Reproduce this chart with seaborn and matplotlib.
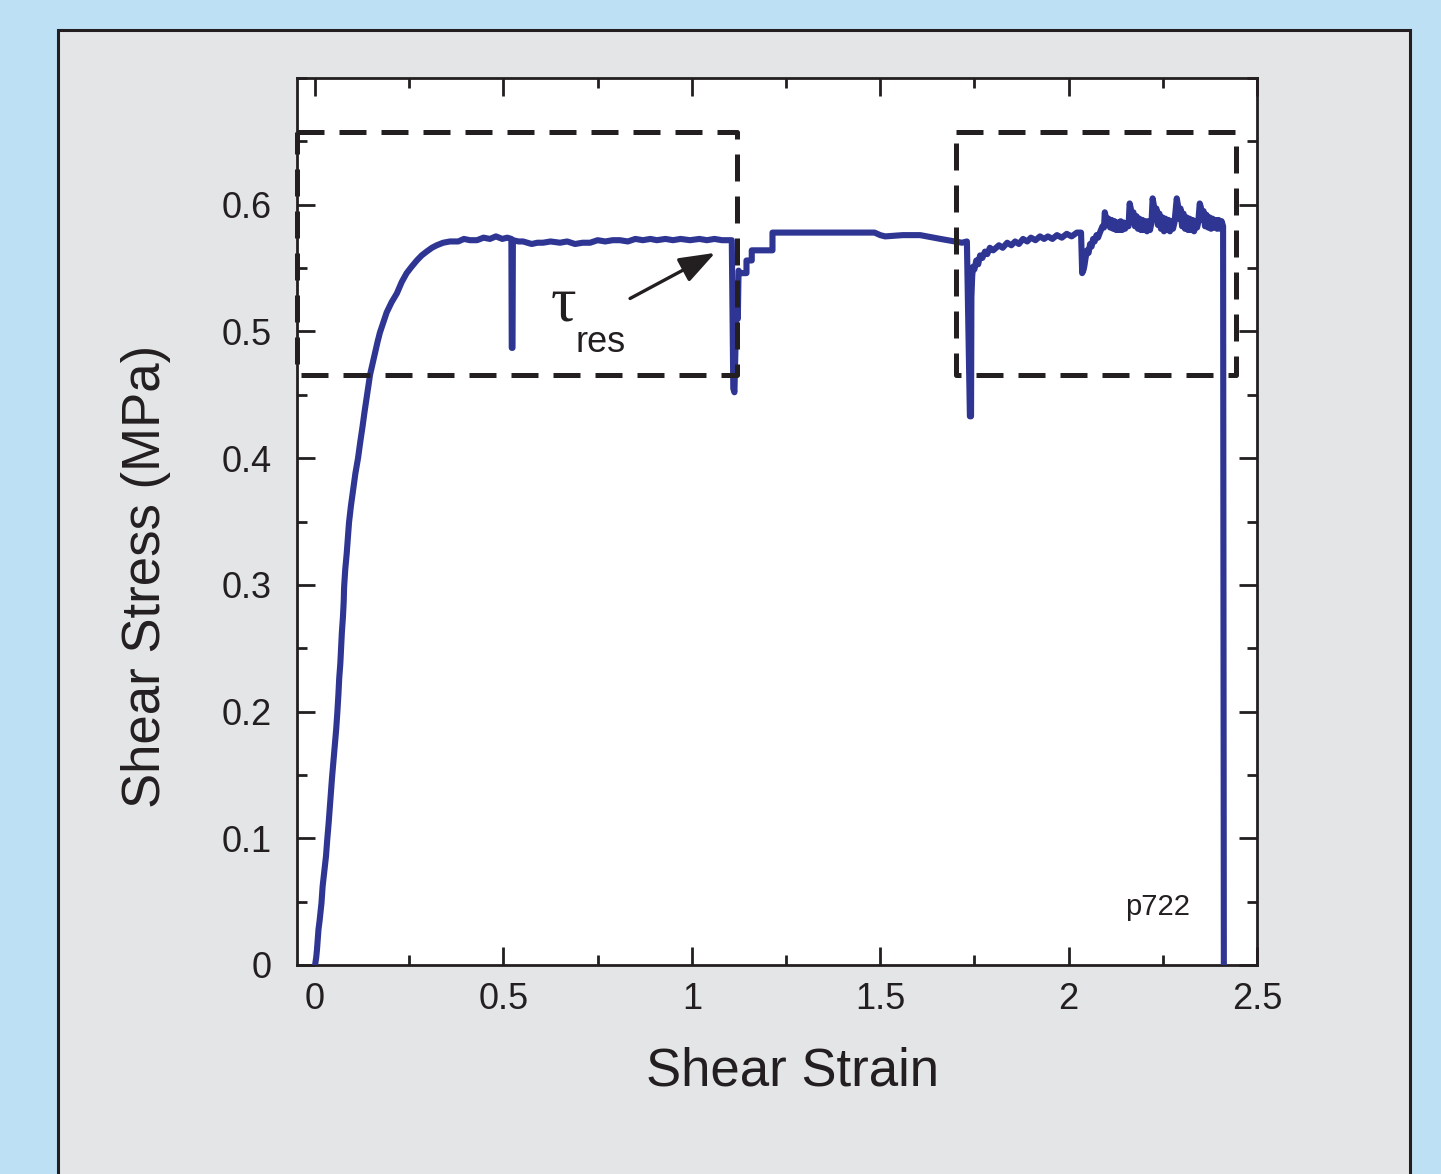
import numpy as np
import pandas as pd
import matplotlib
matplotlib.use("Agg")
import matplotlib.pyplot as plt
from matplotlib.patches import Rectangle
from matplotlib.ticker import MultipleLocator, FormatStrFormatter
import seaborn as sns

# ---- measured shear test p722 ----
# first loading run up to the first unload
strain_run1 = [0.000, 0.003, 0.005, 0.009, 0.012, 0.017, 0.020, 0.025, 0.029, 0.032,
               0.036, 0.039, 0.042, 0.045, 0.049, 0.052, 0.056, 0.059, 0.062, 0.064,
               0.067, 0.069, 0.071, 0.074, 0.076, 0.077, 0.080, 0.084, 0.087, 0.090,
               0.095, 0.101, 0.107, 0.114, 0.120, 0.126, 0.131, 0.137, 0.146, 0.153,
               0.159, 0.166, 0.172, 0.181, 0.190, 0.203, 0.217, 0.230, 0.243, 0.256,
               0.270, 0.283, 0.296, 0.310, 0.323, 0.340, 0.358, 0.380, 0.395, 0.411,
               0.430, 0.447, 0.464, 0.480, 0.497, 0.510, 0.521, 0.522, 0.524, 0.525,
               0.540, 0.552, 0.575, 0.590, 0.605, 0.625, 0.650, 0.669, 0.690, 0.710,
               0.730, 0.750, 0.770, 0.790, 0.809, 0.830, 0.850, 0.870, 0.890, 0.907,
               0.930, 0.950, 0.970, 0.995, 1.020, 1.040, 1.060, 1.080, 1.106]
stress_run1 = [0.000, 0.006, 0.012, 0.028, 0.035, 0.049, 0.062, 0.075, 0.086, 0.098,
               0.112, 0.124, 0.135, 0.148, 0.162, 0.172, 0.186, 0.199, 0.214, 0.226,
               0.238, 0.250, 0.262, 0.275, 0.287, 0.298, 0.312, 0.325, 0.337, 0.349,
               0.362, 0.375, 0.388, 0.400, 0.413, 0.425, 0.436, 0.448, 0.466, 0.475,
               0.483, 0.492, 0.499, 0.507, 0.515, 0.523, 0.530, 0.539, 0.546, 0.551,
               0.556, 0.560, 0.563, 0.566, 0.568, 0.570, 0.571, 0.571, 0.573, 0.572,
               0.572, 0.574, 0.573, 0.575, 0.573, 0.574, 0.573, 0.487, 0.487, 0.572,
               0.571, 0.571, 0.569, 0.570, 0.570, 0.571, 0.570, 0.571, 0.569, 0.570,
               0.570, 0.572, 0.571, 0.572, 0.572, 0.571, 0.573, 0.572, 0.573, 0.572,
               0.573, 0.572, 0.573, 0.572, 0.573, 0.572, 0.573, 0.572, 0.572]

# second run: unload/reload and the long steady plateau
strain_run2 = [1.110, 1.113, 1.116, 1.119, 1.122, 1.124, 1.128, 1.131, 1.145, 1.145,
               1.159, 1.159, 1.214, 1.214, 1.300, 1.400, 1.485, 1.500, 1.513, 1.560,
               1.606, 1.660, 1.717, 1.730]
stress_run2 = [0.455, 0.452, 0.490, 0.527, 0.510, 0.548, 0.546, 0.546, 0.546, 0.556,
               0.556, 0.564, 0.564, 0.578, 0.578, 0.578, 0.578, 0.576, 0.575, 0.576,
               0.576, 0.573, 0.570, 0.571]

# third run: reload, creep-like recovery and a dip
strain_run3 = [1.738, 1.741, 1.742, 1.744, 1.746, 1.750, 1.755, 1.760, 1.765, 1.771,
               1.778, 1.784, 1.791, 1.800, 1.815, 1.825, 1.837, 1.848, 1.858, 1.868,
               1.879, 1.890, 1.900, 1.912, 1.924, 1.935, 1.945, 1.957, 1.969, 1.982,
               1.995, 2.008, 2.022, 2.033, 2.036, 2.040, 2.042, 2.045, 2.049, 2.053,
               2.057, 2.061, 2.065, 2.069, 2.074, 2.078]
stress_run3 = [0.433, 0.433, 0.527, 0.543, 0.551, 0.549, 0.556, 0.553, 0.560, 0.558,
               0.563, 0.561, 0.566, 0.564, 0.568, 0.566, 0.570, 0.568, 0.571, 0.569,
               0.573, 0.571, 0.574, 0.572, 0.575, 0.573, 0.575, 0.573, 0.576, 0.574,
               0.577, 0.575, 0.578, 0.578, 0.546, 0.549, 0.552, 0.558, 0.564, 0.562,
               0.569, 0.567, 0.573, 0.571, 0.576, 0.574]

# stick-slip events before the final unload
strain_slip = [2.083, 2.090, 2.094, 2.096, 2.099, 2.102, 2.106, 2.110, 2.114, 2.118,
               2.122, 2.126, 2.130, 2.134, 2.138, 2.142, 2.146, 2.150, 2.155, 2.159,
               2.162, 2.165, 2.168, 2.172, 2.176, 2.180, 2.184, 2.188, 2.192, 2.196,
               2.200, 2.204, 2.208, 2.212, 2.216, 2.220, 2.223, 2.226, 2.229, 2.233,
               2.237, 2.241, 2.245, 2.249, 2.253, 2.257, 2.261, 2.265, 2.269, 2.273,
               2.277, 2.281, 2.287, 2.290, 2.293, 2.297, 2.301, 2.305, 2.309, 2.313,
               2.317, 2.321, 2.325, 2.329, 2.333, 2.337, 2.341, 2.344, 2.348, 2.351,
               2.354, 2.358, 2.362, 2.366, 2.370, 2.374, 2.378, 2.382, 2.386, 2.390,
               2.394, 2.398, 2.402, 2.406, 2.410, 2.412]
stress_slip = [0.578, 0.583, 0.582, 0.594, 0.590, 0.584, 0.589, 0.582, 0.588, 0.581,
               0.587, 0.580, 0.586, 0.580, 0.587, 0.580, 0.586, 0.581, 0.585, 0.583,
               0.601, 0.597, 0.587, 0.594, 0.583, 0.591, 0.581, 0.589, 0.580, 0.588,
               0.580, 0.587, 0.579, 0.587, 0.580, 0.586, 0.605, 0.600, 0.589, 0.597,
               0.584, 0.593, 0.581, 0.590, 0.579, 0.589, 0.580, 0.588, 0.579, 0.587,
               0.581, 0.586, 0.605, 0.600, 0.589, 0.597, 0.583, 0.593, 0.581, 0.590,
               0.580, 0.589, 0.580, 0.588, 0.579, 0.587, 0.582, 0.586, 0.601, 0.598,
               0.588, 0.595, 0.583, 0.592, 0.582, 0.590, 0.581, 0.589, 0.582, 0.588,
               0.581, 0.588, 0.581, 0.587, 0.583, 0.000]

# dashed windows marking the residual-strength regions
box1_strain = [-0.048, 1.120]
box2_strain = [1.701, 2.444]
box_stress = [0.466, 0.657]

x_ticks = [0, 0.5, 1, 1.5, 2, 2.5]
y_ticks = [0, 0.1, 0.2, 0.3, 0.4, 0.5, 0.6]

df = pd.DataFrame({
    "strain": strain_run1 + strain_run2 + strain_run3 + strain_slip,
    "stress": stress_run1 + stress_run2 + stress_run3 + stress_slip,
})

sns.set_style("ticks")
plt.rcParams["font.family"] = ["Liberation Sans", "DejaVu Sans"]
ink = "#231f20"

W, H = 1441, 1174
fig = plt.figure(figsize=(W / 100, H / 100), dpi=100, facecolor="#bee0f4")

# grey card behind the chart
card = Rectangle((58 / W, -0.05), (1410 - 58) / W, 1.05 - 30 / H,
                 transform=fig.transFigure, facecolor="#e4e5e7",
                 edgecolor=ink, lw=2.2, zorder=-5)
fig.patches.append(card)

ax = fig.add_axes([297 / W, 1 - 965 / H, (1257 - 297) / W, (965 - 78) / H])
ax.set_facecolor("white")
ax.set_zorder(1)

sns.lineplot(data=df, x="strain", y="stress", sort=False, estimator=None,
             color="#2f3593", lw=4.4, ax=ax, zorder=3)

dash = (0, (5.4, 3.0))
for xs in (box1_strain, box2_strain):
    x0, x1 = xs
    y0, y1 = box_stress
    ax.plot([x0, x1, x1, x0, x0], [y1, y1, y0, y0, y1], color=ink, lw=3.6,
            linestyle=dash, clip_on=False, zorder=4)

ax.set_xlim(-0.048, 2.5)
ax.set_ylim(0, 0.7)
ax.set_xticks(x_ticks)
ax.set_yticks(y_ticks)
ax.xaxis.set_minor_locator(MultipleLocator(0.25))
ax.yaxis.set_minor_locator(MultipleLocator(0.05))
ax.xaxis.set_major_formatter(FormatStrFormatter("%g"))
ax.yaxis.set_major_formatter(FormatStrFormatter("%g"))
ax.tick_params(which="both", direction="in", top=True, right=True,
               width=2.0, color=ink, labelcolor=ink, labelsize=26)
ax.tick_params(which="major", length=13)
ax.tick_params(which="minor", length=7)
ax.tick_params(axis="x", which="major", pad=12)
ax.tick_params(axis="y", which="major", pad=18)
for s in ax.spines.values():
    s.set_color(ink)
    s.set_linewidth(2.0)
ax.set_xlabel("")
ax.set_ylabel("")

fig.text(792 / W, 1 - 1086 / H, "Shear Strain", fontsize=38, color=ink,
         ha="center", va="baseline")
fig.text(146 / W, 1 - 576 / H, "Shear Stress (MPa)", fontsize=38, color=ink,
         ha="center", va="center", rotation=90)

ax.text(2.235, 0.0395, "p722", fontsize=21, color=ink, ha="center", va="baseline")

ax.text(0.658, 0.509, "τ", fontsize=46, color=ink, ha="center", va="baseline",
        family=["Liberation Serif", "DejaVu Serif"], zorder=5)
ax.text(0.690, 0.484, "res", fontsize=26, color=ink, ha="left", va="baseline", zorder=5)
ax.annotate("", xy=(1.062, 0.562), xytext=(0.836, 0.526),
            arrowprops=dict(arrowstyle="-|>,head_length=1.1,head_width=0.4",
                            mutation_scale=20, color=ink, lw=2.4,
                            shrinkA=0, shrinkB=0), zorder=5)

fig.savefig("out.png", dpi=100, facecolor=fig.get_facecolor())
